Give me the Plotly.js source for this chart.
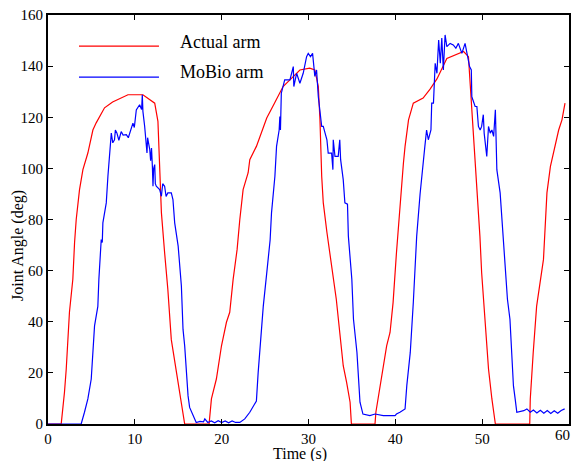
<!DOCTYPE html>
<html>
<head>
<meta charset="utf-8">
<script src="https://cdn.plot.ly/plotly-3.0.1.min.js"></script>
<style>html,body{margin:0;padding:0;background:#fff;}#chart{width:571px;height:461px;}</style>
</head>
<body>
<div id="chart"></div>
<script>
// Actual arm (red)
const actualT = [0, 1.52, 1.9, 2.1, 2.47, 2.86, 3.06, 3.25, 3.63, 3.82, 4.02, 4.59, 5.17, 5.55, 6.13, 6.51, 7.44, 8.25, 9.21, 10.93, 11.9, 12.29, 12.66, 12.86, 13.06, 13.43, 13.8, 14.2, 14.79, 15.36, 15.74,
  18.55, 18.82, 19.39, 19.98, 20.55, 20.93, 21.32, 21.78, 22.09, 22.47, 23.05, 23.24, 24.0, 24.39, 25.19, 26.08, 27.07, 27.86, 29.01, 30.14, 30.73, 31.13, 31.32, 31.52, 31.7, 32.12, 32.47, 32.85, 33.2, 33.6, 34.0, 34.39, 34.79, 34.94,
  37.66, 37.76, 38.25, 39.0, 39.39, 39.74, 40.13, 40.53, 40.93, 41.12, 41.52, 42.07, 43.2, 44.0, 44.79, 45.93, 47.06, 47.86, 48.42, 48.65, 48.81, 49.0, 49.39, 49.74, 49.94, 50.33, 50.73, 51.12, 51.52,
  55.48, 55.54, 55.88, 56.27, 57.06, 57.46, 57.86, 58.42, 58.81, 59.19, 59.54];
const actualDeg = [0, 0, 12.5, 21.5, 43.7, 56.6, 71, 80, 91.7, 95.6, 99.5, 106, 115, 117.8, 121.7, 123.7, 126, 127.2, 128.8, 128.8, 126.6, 125.5, 118.4, 102, 82.7, 67, 52.7, 33, 20.3, 7, 0,
  0, 9.8, 17.6, 30.6, 39.8, 43.7, 56.6, 68.3, 80, 91.7, 98.3, 103.4, 108.6, 112.5, 119.7, 125.5, 132, 134.6, 138.5, 139.2, 138.5, 132, 119, 96.9, 86.6, 75, 67, 57.9, 48.8, 35.8, 22.8, 16.3, 8.5, 0,
  0, 4.6, 15, 30.6, 35.8, 47.5, 67, 86.6, 102, 108.6, 119, 125.5, 127.5, 131, 135, 143, 144.4, 145.7, 143.7, 132, 124.2, 115, 95.6, 73.5, 59.2, 38.4, 21.5, 9.8, 0,
  0, 9.8, 28, 46, 64.4, 90.4, 100.8, 110, 115, 119, 125.5];

// MoBio arm (blue)
const mobioT = [0, 3.82, 4.2, 4.59, 4.98, 5.17, 5.36, 5.74, 5.86, 6.13, 6.25, 6.32, 6.71, 6.9, 7.09, 7.29, 7.46, 7.66, 7.76, 7.94, 8.16, 8.43, 8.65, 9.02, 9.25, 9.4, 9.78, 9.94, 10.17, 10.55, 10.78, 10.86, 10.93, 11.13, 11.28, 11.4, 11.47, 11.72, 11.82, 11.92, 12.02, 12.09, 12.17, 12.29, 12.36, 12.47, 12.86, 13.06, 13.21, 13.43, 13.6, 13.8, 14.2, 14.39, 14.59, 14.99, 15.36, 15.55, 15.74, 15.94, 16.13, 16.31, 16.7, 17.07,
  17.5, 17.9, 18.06, 18.4, 18.8, 19.2, 19.6, 20.0, 20.4, 20.8, 21.2, 21.6, 22.09, 22.66, 23.24, 24.0, 24.2, 24.39, 24.79, 25.19, 25.58, 25.74, 26.13, 26.32, 26.62, 26.7, 26.77, 26.87, 27.26, 27.86, 28.25, 28.31, 28.63, 29.01, 29.39, 29.78, 29.97, 30.23, 30.47, 30.73, 30.93, 31.13, 31.52, 31.7, 32.12, 32.27, 32.66, 32.81, 32.85, 33.05, 33.42, 33.6, 33.7, 34.0, 34.19, 34.49, 34.59, 34.99, 35.18, 35.58, 35.73, 35.93, 36.27,
  37.07, 37.66, 38.61, 39.97, 40.13, 40.53, 41.12, 41.32, 41.72, 42.07, 42.46, 42.85, 43.2, 43.4, 43.6, 43.8, 44.1, 44.19, 44.39, 44.59, 44.79, 44.99, 45.18, 45.35, 45.53, 45.73, 45.93, 46.31, 46.67, 46.97, 47.26, 47.66, 48.03, 48.25, 48.55, 48.75, 48.81, 49.19, 49.39, 49.57, 49.77, 49.94, 50.13, 50.23, 50.53, 50.73, 50.93, 51.12, 51.32, 51.52, 51.69, 52.07, 52.26, 52.46, 52.61, 52.91, 53.2, 53.4, 53.6, 53.8, 53.99,
  54.79, 55.15, 55.54, 55.9, 56.3, 56.7, 57.1, 57.5, 57.9, 58.3, 58.7, 59.1, 59.5];
const mobioDeg = [0, 0, 4.6, 9.8, 17.6, 30.6, 38.4, 46, 56.6, 72.2, 71, 78.7, 86.5, 96.9, 104.7, 113.8, 110, 111.2, 115, 113.8, 111, 114.4, 113, 113.2, 112, 113.8, 117.7, 116, 122.9, 124.9, 123, 128.8, 122.3, 116.5, 110, 106, 112, 107.3, 103, 108, 100.8, 93, 100, 101.5, 94, 93, 91.7, 89.1, 94, 93, 89, 90.4, 90.4, 87.8, 78.7, 69.6, 54, 37, 30.6, 20.2, 11, 6.5, 3.3, 0.6,
  1, 0.8, 2, 0.6, 1.2, 0.5, 1.3, 0.6, 1.2, 0.5, 1.2, 0.6, 0.6, 2, 4.6, 9, 20, 28, 46, 59, 72, 82.6, 96.9, 108.6, 115, 120.3, 115, 129.4, 134.6, 134.6, 139.8, 132, 137.2, 133.3, 137.2, 143.7, 145, 143.7, 145, 136, 138.5, 128, 116.4, 116.4, 111.2, 106, 106, 99.5, 111.2, 104.7, 104.7, 111.2, 103.4, 95.6, 86.5, 86, 73.5, 56.6, 41, 28, 17.6, 8.5, 3.9,
  3.3, 3.9, 3.3, 3.3, 3.9, 4.6, 5.9, 15, 28, 47.5, 73.5, 90, 104, 108.6, 115, 111.2, 115, 125.5, 125.5, 141.1, 137.2, 150.2, 141.1, 151, 138.5, 152.2, 147.6, 148.9, 148.3, 147, 148.9, 145, 148.9, 145, 139.8, 138.5, 128, 124.2, 124.2, 116.4, 115, 116.4, 121, 113.8, 104.7, 116.4, 113.8, 115, 112.5, 122.9, 99.5, 90.4, 80, 69.6, 64.4, 48.8, 41, 25.4, 15, 9.8, 4.6,
  5.2, 5.9, 4.6, 5.5, 4.3, 5.4, 4.2, 5.3, 4.1, 5.2, 4.2, 5.3, 5.9];

const seriesNames = ["Actual arm", "MoBio arm"];
const xTicks = [0, 10, 20, 30, 40, 50, 60];
const xTickText = ["0", "10", "20", "30", "40", "50", ""];
const lastXTickText = "60";
const yTicks = [0, 20, 40, 60, 80, 100, 120, 140, 160];
const xTitle = "Time (s)";
const yTitle = "Joint Angle (deg)";

const FONT = "'Liberation Serif', 'Times New Roman', serif";

const traces = [
  {x: actualT, y: actualDeg, type: 'scatter', mode: 'lines', name: seriesNames[0], line: {color: '#ff0000', width: 1.2}},
  {x: mobioT, y: mobioDeg, type: 'scatter', mode: 'lines', name: seriesNames[1], line: {color: '#0000ff', width: 1.2}}
];

const axisCommon = {
  showline: true, linecolor: '#000', linewidth: 2, mirror: 'ticks',
  ticks: 'inside', ticklen: 5, tickwidth: 1, tickcolor: '#000',
  showgrid: false, zeroline: false,
  tickfont: {family: FONT, size: 15, color: '#000'}
};

const layout = {
  width: 571, height: 461,
  margin: {l: 48, r: 2, t: 15, b: 37},
  paper_bgcolor: '#fff', plot_bgcolor: '#fff',
  showlegend: false,
  font: {family: FONT, color: '#000'},
  xaxis: Object.assign({}, axisCommon, {
    range: [0, 60], tickvals: xTicks, ticktext: xTickText
  }),
  yaxis: Object.assign({}, axisCommon, {
    range: [0, 160], tickvals: yTicks, ticktext: yTicks.map(String)
  }),
  shapes: [
    {type: 'line', xref: 'paper', yref: 'paper', x0: 0.0595, x1: 0.213, y0: 0.924, y1: 0.924, line: {color: '#ff0000', width: 1.2}},
    {type: 'line', xref: 'paper', yref: 'paper', x0: 0.0595, x1: 0.213, y0: 0.848, y1: 0.848, line: {color: '#0000ff', width: 1.2}}
  ],
  annotations: [
    {text: seriesNames[0], xref: 'paper', yref: 'paper', x: 0.2495, y: 0.934, xanchor: 'left', yanchor: 'middle', showarrow: false, font: {family: FONT, size: 18, color: '#000'}},
    {text: seriesNames[1], xref: 'paper', yref: 'paper', x: 0.2495, y: 0.861, xanchor: 'left', yanchor: 'middle', showarrow: false, font: {family: FONT, size: 18, color: '#000'}},
    {text: lastXTickText, xref: 'x', yref: 'paper', x: 60, y: -0.0269, xanchor: 'right', yanchor: 'middle', xshift: 3, showarrow: false, font: {family: FONT, size: 15, color: '#000'}},
    {text: xTitle, xref: 'paper', yref: 'paper', x: 0.4837, y: -0.0735, xanchor: 'center', yanchor: 'middle', showarrow: false, borderpad: 0, font: {family: FONT, size: 16, color: '#000'}},
    {text: yTitle, xref: 'paper', yref: 'paper', x: -0.0576, y: 0.4377, xanchor: 'center', yanchor: 'middle', textangle: -90, showarrow: false, font: {family: FONT, size: 16, color: '#000'}}
  ]
};

Plotly.newPlot('chart', traces, layout, {displayModeBar: false, staticPlot: true});
</script>
</body>
</html>
